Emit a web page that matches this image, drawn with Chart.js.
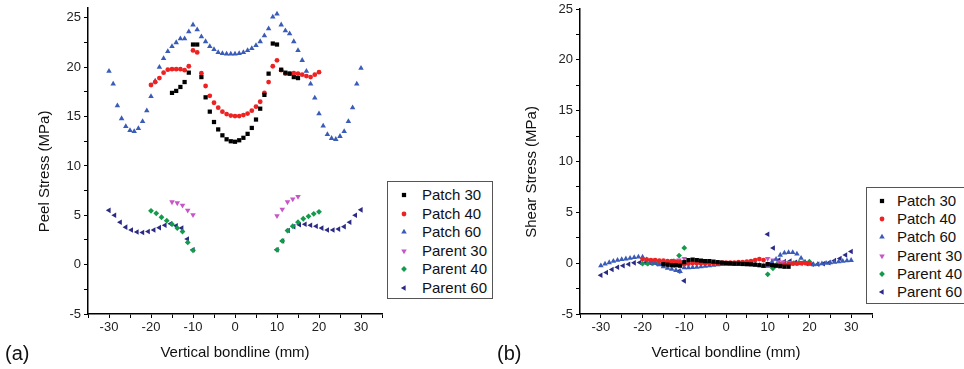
<!DOCTYPE html>
<html>
<head>
<meta charset="utf-8">
<script src="https://cdn.jsdelivr.net/npm/chart.js@4.4.0/dist/chart.umd.min.js"></script>
<style>
body { margin: 0; background: #fff; width: 964px; height: 369px; overflow: hidden; position: relative;
       font-family: "Liberation Sans", Arial, sans-serif; color: #111; }
canvas { position: absolute; top: 0; }
#chartA { left: 0; }
#chartB { left: 480px; }
.legend { position: absolute; border: 1px solid #555; background: #fff; z-index: 2; }
.row { position: absolute; left: 0; right: 0; height: 18px; font-size: 15px; line-height: 18px; white-space: nowrap; }
.row svg { position: absolute; top: 4px; }
.row span { position: absolute; top: 0; }
.tag { position: absolute; top: 342px; font-size: 20px; line-height: 22px; }
</style>
</head>
<body>
<canvas id="chartA" width="386" height="369"></canvas>
<canvas id="chartB" width="396" height="369"></canvas>
<div class="legend" id="legendA" style="left:387px;top:181px;width:104px;height:116px"></div>
<div class="legend" id="legendB" style="left:866px;top:187px;width:110px;height:115px"></div>
<div class="tag" style="left:5px">(a)</div>
<div class="tag" style="left:497px">(b)</div>
<script>
// series names and positions along the bondline (mm)
const seriesNames = ['Patch 30', 'Patch 40', 'Patch 60', 'Parent 30', 'Parent 40', 'Parent 60'];

const xPatch30 = [-15,-14,-13,-12,-11,-10,-9,-8,-7,-6,-5,-4,-3,-2,-1,0,1,2,3,4,5,6,7,8,9,10,11,12,13,14,15];
const xPatch40 = [-20,-19,-18,-17,-16,-15,-14,-13,-12,-11,-10,-9,-8,-7,-6,-5,-4,-3,-2,-1,0,
                  1,2,3,4,5,6,7,8,9,10,11,12,13,14,15,16,17,18,19,20];
const xPatch60 = [-30,-29,-28,-27,-26,-25,-24,-23,-22,-21,-20,-19,-18,-17,-16,-15,-14,-13,-12,-11,
                  -10,-9,-8,-7,-6,-5,-4,-3,-2,-1,0,1,2,3,4,5,6,7,8,9,
                  10,11,12,13,14,15,16,17,18,19,20,21,22,23,24,25,26,27,28,29,30];
const xParent30 = [-15,-13.75,-12.5,-11.25,-10, 10,11.25,12.5,13.75,15];
const xParent40 = [-20,-18.75,-17.5,-16.25,-15,-13.75,-12.5,-11.25,-10,
                   10,11.25,12.5,13.75,15,16.25,17.5,18.75,20];
const xParent60 = [-30,-28.67,-27.33,-26,-24.67,-23.33,-22,-20.67,-19.33,-18,-16.67,-15.33,-14,-12.67,-11.33,-10,
                   10,11.33,12.67,14,15.33,16.67,18,19.33,20.67,22,23.33,24.67,26,27.33,28.67,30];

// (a) peel stress, MPa
const peelPatch30 = [17.4,17.6,18.0,18.5,19.45,22.3,22.3,19.0,16.95,15.5,
                     14.45,13.7,13.1,12.7,12.5,12.45,12.6,12.85,13.25,13.85,
                     14.7,15.8,17.2,19.35,22.4,22.3,19.75,19.45,19.35,19.0,18.9];
const peelPatch40 = [18.2,18.5,18.9,19.45,19.75,19.8,19.8,19.8,19.7,20.1,
                     21.7,21.5,19.4,18.1,17.1,16.4,15.9,15.5,15.25,15.1,
                     15.05,15.05,15.15,15.3,15.6,16.0,16.5,17.4,18.5,20.1,
                     20.7,19.7,19.35,19.35,19.4,19.35,19.25,19.1,19.0,19.25,19.5];
const peelPatch60 = [19.6,18.3,16.1,14.8,14.0,13.6,13.5,13.8,14.5,15.6,
                     17.05,18.6,20.0,20.9,21.6,22.1,22.5,22.9,22.9,23.6,
                     24.3,23.8,23.1,22.6,22.1,21.8,21.5,21.4,21.35,21.35,
                     21.35,21.4,21.5,21.7,21.9,22.2,22.6,23.2,23.9,25.1,
                     25.4,24.3,23.7,23.4,22.6,21.7,20.7,19.6,18.3,16.9,
                     15.3,14.05,13.2,12.8,12.7,13.0,13.5,14.5,15.9,18.3,19.9];
const peelParent30 = [6.35,6.25,6.0,5.5,5.05, 4.95,5.6,6.35,6.65,6.9];
const peelParent40 = [5.45,5.2,4.8,4.45,4.1,3.7,3.35,2.25,1.45,
                      1.5,2.4,3.45,3.9,4.3,4.65,4.9,5.15,5.35];
const peelParent60 = [5.5,5.0,4.3,3.8,3.5,3.3,3.25,3.35,3.5,3.75,4.0,4.15,3.95,3.7,2.6,1.5,
                      1.5,2.4,3.45,3.85,4.05,4.1,4.0,3.9,3.7,3.5,3.5,3.6,3.85,4.3,5.0,5.55];

// (b) shear stress, MPa
const shearPatch30 = [-0.1,-0.15,-0.2,-0.2,-0.25,0.1,0.3,0.35,0.3,0.25,
                      0.2,0.2,0.15,0.1,0.05,0.0,-0.02,-0.05,-0.05,-0.08,
                      -0.1,-0.12,-0.15,-0.2,-0.25,-0.1,-0.2,-0.25,-0.3,-0.35,-0.35];
const shearPatch40 = [0.4,0.35,0.3,0.3,0.25,0.25,0.2,0.2,0.15,0.1,
                      -0.1,-0.05,0,0,0,0,0,0,0,0.05,
                      0.05,0.05,0.05,0.1,0.1,0.15,0.2,0.3,0.4,0.3,
                      -0.1,-0.2,-0.2,-0.15,-0.15,-0.1,-0.05,-0.05,0,0,0];
const shearPatch60 = [-0.25,-0.07,0.06,0.2,0.3,0.36,0.43,0.49,0.56,0.62,
                      0.6,0.35,0.15,0.0,-0.15,-0.35,-0.5,-0.6,-0.7,-0.8,
                      -0.45,-0.45,-0.42,-0.4,-0.35,-0.3,-0.25,-0.2,-0.15,-0.12,
                      -0.1,-0.1,-0.1,-0.1,-0.1,-0.1,-0.12,-0.15,-0.2,-0.3,
                      -0.3,0.1,0.4,0.8,1.0,1.05,1.05,0.9,0.5,0.1,
                      -0.1,-0.15,-0.1,-0.05,0.0,0.05,0.1,0.15,0.2,0.25,0.28];
const shearParent30 = [0.05,0.1,0.15,0.3,0.45, 0.45,0.3,0.15,0.1,0.05];
const shearParent40 = [-0.05,-0.05,0,0,0.05,0.05,0.2,0.75,1.5,
                       -1.1,-0.5,0,0,-0.05,0,0.05,0.1,0.15];
const shearParent60 = [-1.18,-0.92,-0.62,-0.4,-0.26,-0.1,0.03,0.06,0.05,0,-0.05,-0.1,-0.15,-0.2,-0.8,-1.74,
                       2.85,1.5,0.3,0.15,0.2,0.1,0,-0.05,-0.1,-0.1,-0.05,0.05,0.25,0.45,0.8,1.15];

// marker look per series
const colors = ['#000000', '#ee2222', '#3a5cb8', '#c855c8', '#139a4a', '#2b2a85'];
const shapes = ['rect', 'circle', 'triangle', 'triangle', 'rectRot', 'triangle'];
const rotations = [0, 0, 0, 180, 0, -90];
const radii = [3, 2.4, 3.2, 3.2, 2.9, 3.2];

Chart.defaults.font.family = "'Liberation Sans', Arial, sans-serif";
Chart.defaults.color = '#222';

function pts(xs, ys) {
    return xs.map((x, i) => ({ x: x, y: ys[i] }));
}

function makeChart(id, xs, ys, yMax, yTitle, pad, yWidth) {
    const datasets = ys.map((vals, i) => ({
        label: seriesNames[i],
        data: pts(xs[i], vals),
        pointStyle: shapes[i],
        pointRotation: rotations[i],
        pointRadius: radii[i],
        pointBackgroundColor: colors[i],
        pointBorderWidth: 0,
        showLine: false
    }));
    return new Chart(document.getElementById(id), {
        type: 'scatter',
        data: { datasets: datasets },
        options: {
            responsive: false,
            animation: false,
            devicePixelRatio: 1,
            layout: { padding: pad },
            plugins: { legend: { display: false }, tooltip: { enabled: false } },
            scales: {
                x: {
                    type: 'linear', min: -35, max: 35,
                    afterFit: s => { s.height = 55; s.paddingLeft = 0; s.paddingRight = 0; },
                    ticks: {
                        stepSize: 5, autoSkip: false, maxRotation: 0, includeBounds: false,
                        padding: 2, font: { size: 13 }, color: '#222',
                        callback: v => (v % 10 === 0 && Math.abs(v) <= 30) ? v : ''
                    },
                    grid: { drawOnChartArea: false, drawTicks: true, tickLength: 4, color: '#000', lineWidth: 1 },
                    border: { display: true, color: '#000', width: 1.5 },
                    title: { display: true, text: 'Vertical bondline (mm)', font: { size: 15 }, color: '#111',
                             padding: { top: 4, bottom: 7 } }
                },
                y: {
                    type: 'linear', min: -5, max: yMax,
                    afterFit: s => { s.width = yWidth; s.paddingTop = 0; s.paddingBottom = 0; },
                    ticks: {
                        stepSize: 2.5, autoSkip: false, includeBounds: false,
                        padding: 3, font: { size: 13 }, color: '#222',
                        callback: v => (v % 5 === 0) ? v : ''
                    },
                    grid: { drawOnChartArea: false, drawTicks: true, tickLength: 4, color: '#000', lineWidth: 1 },
                    border: { display: true, color: '#000', width: 1.5 },
                    title: { display: true, text: yTitle + '     ', font: { size: 15 }, color: '#111',
                             padding: { top: 0, bottom: 4 } }
                }
            }
        }
    });
}

const xsAll = [xPatch30, xPatch40, xPatch60, xParent30, xParent40, xParent60];

makeChart('chartA', xsAll,
    [peelPatch30, peelPatch40, peelPatch60, peelParent30, peelParent40, peelParent60],
    26, 'Peel Stress (MPa)', { left: 36, top: 8, right: 3, bottom: 0 }, 52);

makeChart('chartB', xsAll,
    [shearPatch30, shearPatch40, shearPatch60, shearParent30, shearParent40, shearParent60],
    25, 'Shear Stress (MPa)', { left: 43, top: 9, right: 2, bottom: 0 }, 57);

// legend marker as a small svg, same shapes as the chart points
function markerSvg(i, left) {
    const c = 5, r = radii[i], col = colors[i];
    let shape;
    if (shapes[i] === 'rect') {
        const h = r * Math.SQRT1_2;
        shape = `<rect x="${c - h}" y="${c - h}" width="${2 * h}" height="${2 * h}" fill="${col}"/>`;
    } else if (shapes[i] === 'circle') {
        shape = `<circle cx="${c}" cy="${c}" r="${r}" fill="${col}"/>`;
    } else {
        const n = shapes[i] === 'triangle' ? 3 : 4;
        let a = rotations[i] * Math.PI / 180;
        const p = [];
        for (let k = 0; k < n; k++) {
            p.push((c + Math.sin(a) * r).toFixed(2) + ',' + (c - Math.cos(a) * r).toFixed(2));
            a += 2 * Math.PI / n;
        }
        shape = `<polygon points="${p.join(' ')}" fill="${col}"/>`;
    }
    return `<svg width="10" height="10" style="left:${left - 5}px">${shape}</svg>`;
}

function buildLegend(id, rowStep, markX, textX) {
    const box = document.getElementById(id);
    seriesNames.forEach((name, i) => {
        const row = document.createElement('div');
        row.className = 'row';
        row.style.top = (4 + i * rowStep) + 'px';
        row.innerHTML = markerSvg(i, markX) + `<span style="left:${textX}px">${name}</span>`;
        box.appendChild(row);
    });
}

buildLegend('legendA', 18.6, 16, 34);
buildLegend('legendB', 18.2, 15, 30);
</script>
</body>
</html>
